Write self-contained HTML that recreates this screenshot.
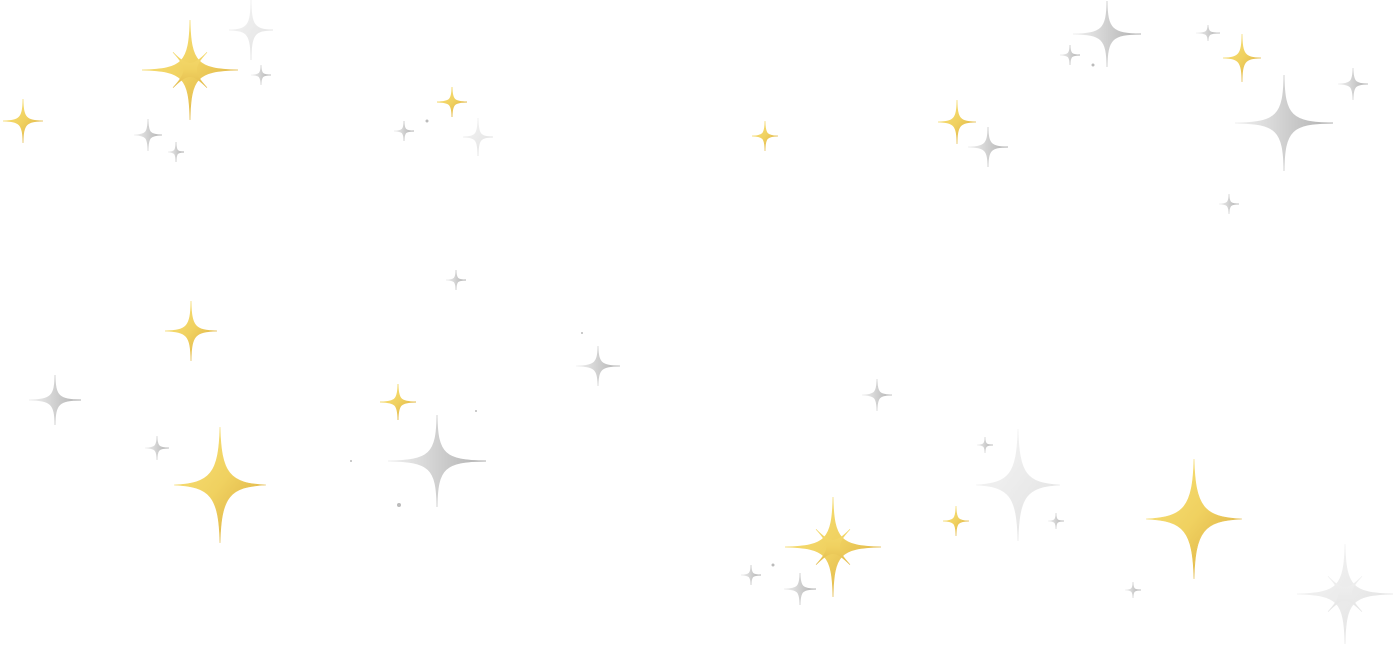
<!DOCTYPE html>
<html><head><meta charset="utf-8"><style>html,body{margin:0;padding:0;background:#fff}svg{display:block}</style></head>
<body>
<svg width="1396" height="645" viewBox="0 0 1396 645" xmlns="http://www.w3.org/2000/svg">
<defs>
<linearGradient id="g" x1="0" y1="0" x2="1" y2="1"><stop offset="0" stop-color="#f8e27a"/><stop offset="0.5" stop-color="#f0d160"/><stop offset="1" stop-color="#d6a53a"/></linearGradient>
<linearGradient id="s" x1="0" y1="0" x2="1" y2="0"><stop offset="0" stop-color="#f0f0f0"/><stop offset="0.5" stop-color="#d0d0d0"/><stop offset="1" stop-color="#b0b0b0"/></linearGradient>
<linearGradient id="l" x1="0" y1="0" x2="1" y2="1"><stop offset="0" stop-color="#f6f6f6"/><stop offset="1" stop-color="#e0e0e0"/></linearGradient>
<path id="t" vector-effect="non-scaling-stroke" stroke-width="0.9" d="M0,-1 C0.01,-0.15 0.15,-0.01 1,0 C0.15,0.01 0.01,0.15 0,1 C-0.01,0.15 -0.15,0.01 -1,0 C-0.15,-0.01 -0.01,-0.15 0,-1Z"/>
<path id="f" vector-effect="non-scaling-stroke" stroke-width="0.6" d="M0,-1 C0.03,-0.2 0.2,-0.03 1,0 C0.2,0.03 0.03,0.2 0,1 C-0.03,0.2 -0.2,0.03 -1,0 C-0.2,-0.03 -0.03,-0.2 0,-1Z"/>
<path id="m" vector-effect="non-scaling-stroke" stroke-width="0.7" d="M0,-1 C0.02,-0.15 0.15,-0.02 1,0 C0.15,0.02 0.02,0.15 0,1 C-0.02,0.15 -0.15,0.02 -1,0 C-0.15,-0.02 -0.02,-0.15 0,-1Z"/>
<g id="e"><use href="#m"/><use href="#m" transform="rotate(45) scale(0.5)"/></g>
</defs>
<g fill="url(#g)" stroke="url(#g)">
<use href="#e" transform="translate(190,70) scale(48,50)"/>
<use href="#m" transform="translate(23,121) scale(20,22)"/>
<use href="#t" transform="translate(452,102) scale(15,15)"/>
<use href="#m" transform="translate(191,331) scale(26,30)"/>
<use href="#t" transform="translate(398,402) scale(18,18)"/>
<use href="#f" transform="translate(220,485) scale(46,58)"/>
<use href="#m" transform="translate(765,136) scale(13,15)"/>
<use href="#m" transform="translate(957,122) scale(19,22)"/>
<use href="#m" transform="translate(1242,58) scale(19,24)"/>
<use href="#e" transform="translate(833,547) scale(48,50)"/>
<use href="#m" transform="translate(956,521) scale(13,15)"/>
<use href="#f" transform="translate(1194,519) scale(48,60)"/>
</g>
<g fill="url(#s)" stroke="url(#s)">
<use href="#t" transform="translate(251,30) scale(22,30)" fill="url(#l)" stroke="url(#l)"/>
<use href="#m" transform="translate(261,75) scale(10,10)"/>
<use href="#m" transform="translate(148,135) scale(14,16)"/>
<use href="#t" transform="translate(176,152) scale(8,10)"/>
<use href="#t" transform="translate(404,131) scale(10,10)"/>
<use href="#t" transform="translate(478,137) scale(15,19)" fill="url(#l)" stroke="url(#l)"/>
<use href="#t" transform="translate(456,280) scale(10,10)"/>
<use href="#m" transform="translate(598,366) scale(22,20)"/>
<use href="#t" transform="translate(55,400) scale(26,25)"/>
<use href="#m" transform="translate(157,448) scale(12,12)"/>
<use href="#t" transform="translate(437,461) scale(49,46)"/>
<use href="#m" transform="translate(877,395) scale(15,16)"/>
<use href="#t" transform="translate(988,147) scale(20,20)"/>
<use href="#t" transform="translate(1107,34) scale(34,33)"/>
<use href="#t" transform="translate(1070,55) scale(10,10)"/>
<use href="#m" transform="translate(1208,33) scale(12,8)"/>
<use href="#t" transform="translate(1284,123) scale(49,48)"/>
<use href="#m" transform="translate(1353,84) scale(15,16)"/>
<use href="#m" transform="translate(1229,204) scale(10,10)"/>
<use href="#m" transform="translate(985,445) scale(8,8)"/>
<use href="#f" transform="translate(1018,485) scale(42,56)" fill="url(#l)" stroke="url(#l)"/>
<use href="#m" transform="translate(1056,521) scale(8,8)"/>
<use href="#t" transform="translate(800,589) scale(16,16)"/>
<use href="#t" transform="translate(751,575) scale(10,10)"/>
<use href="#m" transform="translate(1133,590) scale(8,8)"/>
<use href="#e" transform="translate(1345,594) scale(48,50)" fill="url(#l)" stroke="url(#l)"/>
</g>
<g fill="#bbb"><circle cx="427" cy="121" r="1.5"/><circle cx="1093" cy="65" r="1.5"/><circle cx="399" cy="505" r="2"/><circle cx="773" cy="565" r="1.5"/><circle cx="582" cy="333" r="1"/><circle cx="476" cy="411" r="1"/><circle cx="351" cy="461" r="1"/></g>
</svg>
</body></html>
